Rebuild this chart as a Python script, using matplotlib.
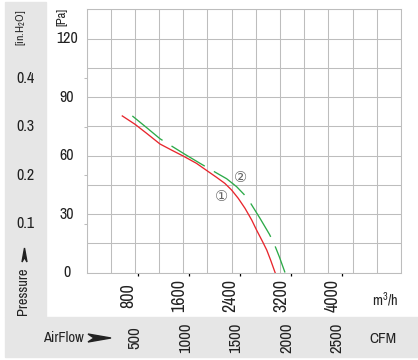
import numpy as np
import matplotlib
matplotlib.use('Agg')
import matplotlib.pyplot as plt
import matplotlib.transforms as mtrans
from matplotlib import font_manager
from matplotlib.patches import Rectangle, Polygon

# curve 1 (red, solid) and curve 2 (green, dashed): airflow m3/h vs pressure Pa
flow_1 = [560, 760, 940, 1150, 1330, 1515, 1720, 1890, 2035, 2165, 2270,
          2375, 2480, 2585, 2660, 2755, 2820, 2880, 2950]
pa_1 = [80.3, 76.0, 71.4, 65.9, 62.8, 59.7, 56.0, 52.1, 48.8, 45.7, 42.3,
        38.0, 32.9, 26.9, 21.8, 15.8, 11.5, 6.4, 0]
flow_2 = [717, 941, 1150, 1290, 1541, 1827, 1973, 2192, 2349, 2463, 2568,
          2714, 2860, 2932, 3016, 3105]
pa_2 = [80.3, 74.3, 68.6, 65.7, 60.6, 55.0, 52.2, 48.1, 44.0, 40.1, 35.5,
        27.8, 19.7, 15.0, 8.1, 0]

m3h_ticks = [800, 1600, 2400, 3200, 4000]
cfm_ticks = [500, 1000, 1500, 2000, 2500]
pa_ticks = [0, 30, 60, 90, 120]
inh2o_ticks = [0.1, 0.2, 0.3, 0.4]

PA_PER_INH2O = 249
CFM_TO_AXIS = 1.58   # where the chart puts its CFM scale, in m3/h
XMAX, YMAX = 4920, 135

RED = '#e8262d'
GREEN = '#2caa48'
GRID = '#bdbdbd'
PANEL = '#e6e6e6'
INK = '#222222'

names = {f.name for f in font_manager.fontManager.ttflist}
narrow = 'DejaVu Sans'
for cand in ['Liberation Sans Narrow', 'Arial Narrow', 'Archivo Narrow', 'Roboto Condensed',
             'PT Sans Narrow', 'Pragati Narrow', 'Liberation Sans']:
    if cand in names:
        narrow = cand
        break
plt.rcParams['font.family'] = [narrow, 'DejaVu Sans']
plt.rcParams['mathtext.default'] = 'regular'
plt.rcParams['lines.scale_dashes'] = False

W, H = 418, 360
fig = plt.figure(figsize=(W / 100, H / 100), dpi=100)


def fx(px):
    return px / W


def fy(py):
    return 1 - py / H


# grey panels left and bottom, behind everything
fig.patches.append(Rectangle((fx(5), fy(317)), fx(46) - fx(5), (317 - 2) / H,
                             transform=fig.transFigure, color=PANEL, zorder=-5))
fig.patches.append(Rectangle((fx(5), fy(357)), fx(418) - fx(5), (357 - 317) / H,
                             transform=fig.transFigure, color=PANEL, zorder=-5))

ax = fig.add_axes([86.5 / W, fy(272.5), (401 - 86.5) / W, (272.5 - 9.3) / H])
ax.set_xlim(0, XMAX)
ax.set_ylim(0, YMAX)

ax.set_xticks(np.linspace(0, XMAX, 14), minor=True)
ax.set_yticks(np.arange(0, YMAX + 1, 15), minor=True)
ax.grid(which='minor', color=GRID, lw=0.75)
ax.set_axisbelow(True)
ax.set_xticks(m3h_ticks)
ax.set_xticklabels([])
ax.set_yticks([v * PA_PER_INH2O for v in inh2o_ticks])
ax.set_yticklabels([])
ax.tick_params(which='minor', length=0)
ax.tick_params(axis='x', which='major', length=2.4, width=0.9, color='black')
ax.tick_params(axis='y', which='major', length=2.4, width=0.75, color=GRID)
for sp in ax.spines.values():
    sp.set_color(GRID)
    sp.set_linewidth(0.75)

ax.plot(flow_1, pa_1, color=RED, lw=0.95, solid_joinstyle='round')
ax.plot(flow_2, pa_2, color=GREEN, lw=0.95, dashes=(28, 7.6))

circ = ['DejaVu Sans', 'Noto Sans CJK SC']
ax.text(2114, 38.9, '\u2460', color='#666666', fontsize=10.5, ha='center', va='center', family=circ)
ax.text(2410, 48.9, '\u2461', color='#666666', fontsize=10.5, ha='center', va='center', family=circ)

# pressure labels
ytr = ax.get_yaxis_transform()
for v in pa_ticks:
    ax.text(-0.062, v, str(v), transform=ytr, ha='center', va='center', fontsize=11.5, color=INK)
for v in inh2o_ticks:
    ax.text(-0.1955, v * PA_PER_INH2O, f'{v:.1f}', transform=ytr, ha='center', va='center',
            fontsize=11.5, color=INK)

fig.text(fx(62), fy(17), '[Pa]', rotation=90, ha='center', va='center', fontsize=9, color=INK)
fig.text(fx(21.5), fy(28), '[in.H$_2$O]', rotation=90, ha='center', va='center', fontsize=8.5,
         color=INK)
fig.text(fx(23), fy(291.5), 'Pressure', rotation=90, ha='center', va='center', fontsize=10.3,
         color=INK)
fig.patches.append(Polygon([(fx(24.5), fy(248)), (fx(27), fy(262)), (fx(24.5), fy(257.5)),
                            (fx(22), fy(262))], closed=True, transform=fig.transFigure,
                           color=INK, zorder=3))

# airflow labels
fig.text(fx(63.5), fy(338), 'AirFlow', ha='center', va='center', fontsize=10.5, color=INK)
fig.patches.append(Polygon([(fx(111), fy(338)), (fx(88), fy(342)), (fx(94), fy(338)),
                            (fx(88), fy(334))], closed=True, transform=fig.transFigure,
                           color=INK, zorder=3))

blend = mtrans.blended_transform_factory(ax.transData, fig.transFigure)
shift_m3h = blend + mtrans.ScaledTranslation(-9.5 / 100, 0, fig.dpi_scale_trans)
shift_cfm = blend + mtrans.ScaledTranslation(-2 / 100, 0, fig.dpi_scale_trans)
for v in m3h_ticks:
    ax.text(v, fy(295.5), str(v), transform=shift_m3h, rotation=90, ha='center', va='center',
            fontsize=13, color=INK, clip_on=False)
for v in cfm_ticks:
    ax.text(v * CFM_TO_AXIS, fy(338), str(v), transform=shift_cfm, rotation=90, ha='center',
            va='center', fontsize=12, color=INK, clip_on=False)

fig.text(fx(385), fy(300), 'm$^3$/h', ha='center', va='center', fontsize=10.5, color=INK)
fig.text(fx(383), fy(339), 'CFM', ha='center', va='center', fontsize=11, color=INK)

fig.savefig('out.png', dpi=100)
